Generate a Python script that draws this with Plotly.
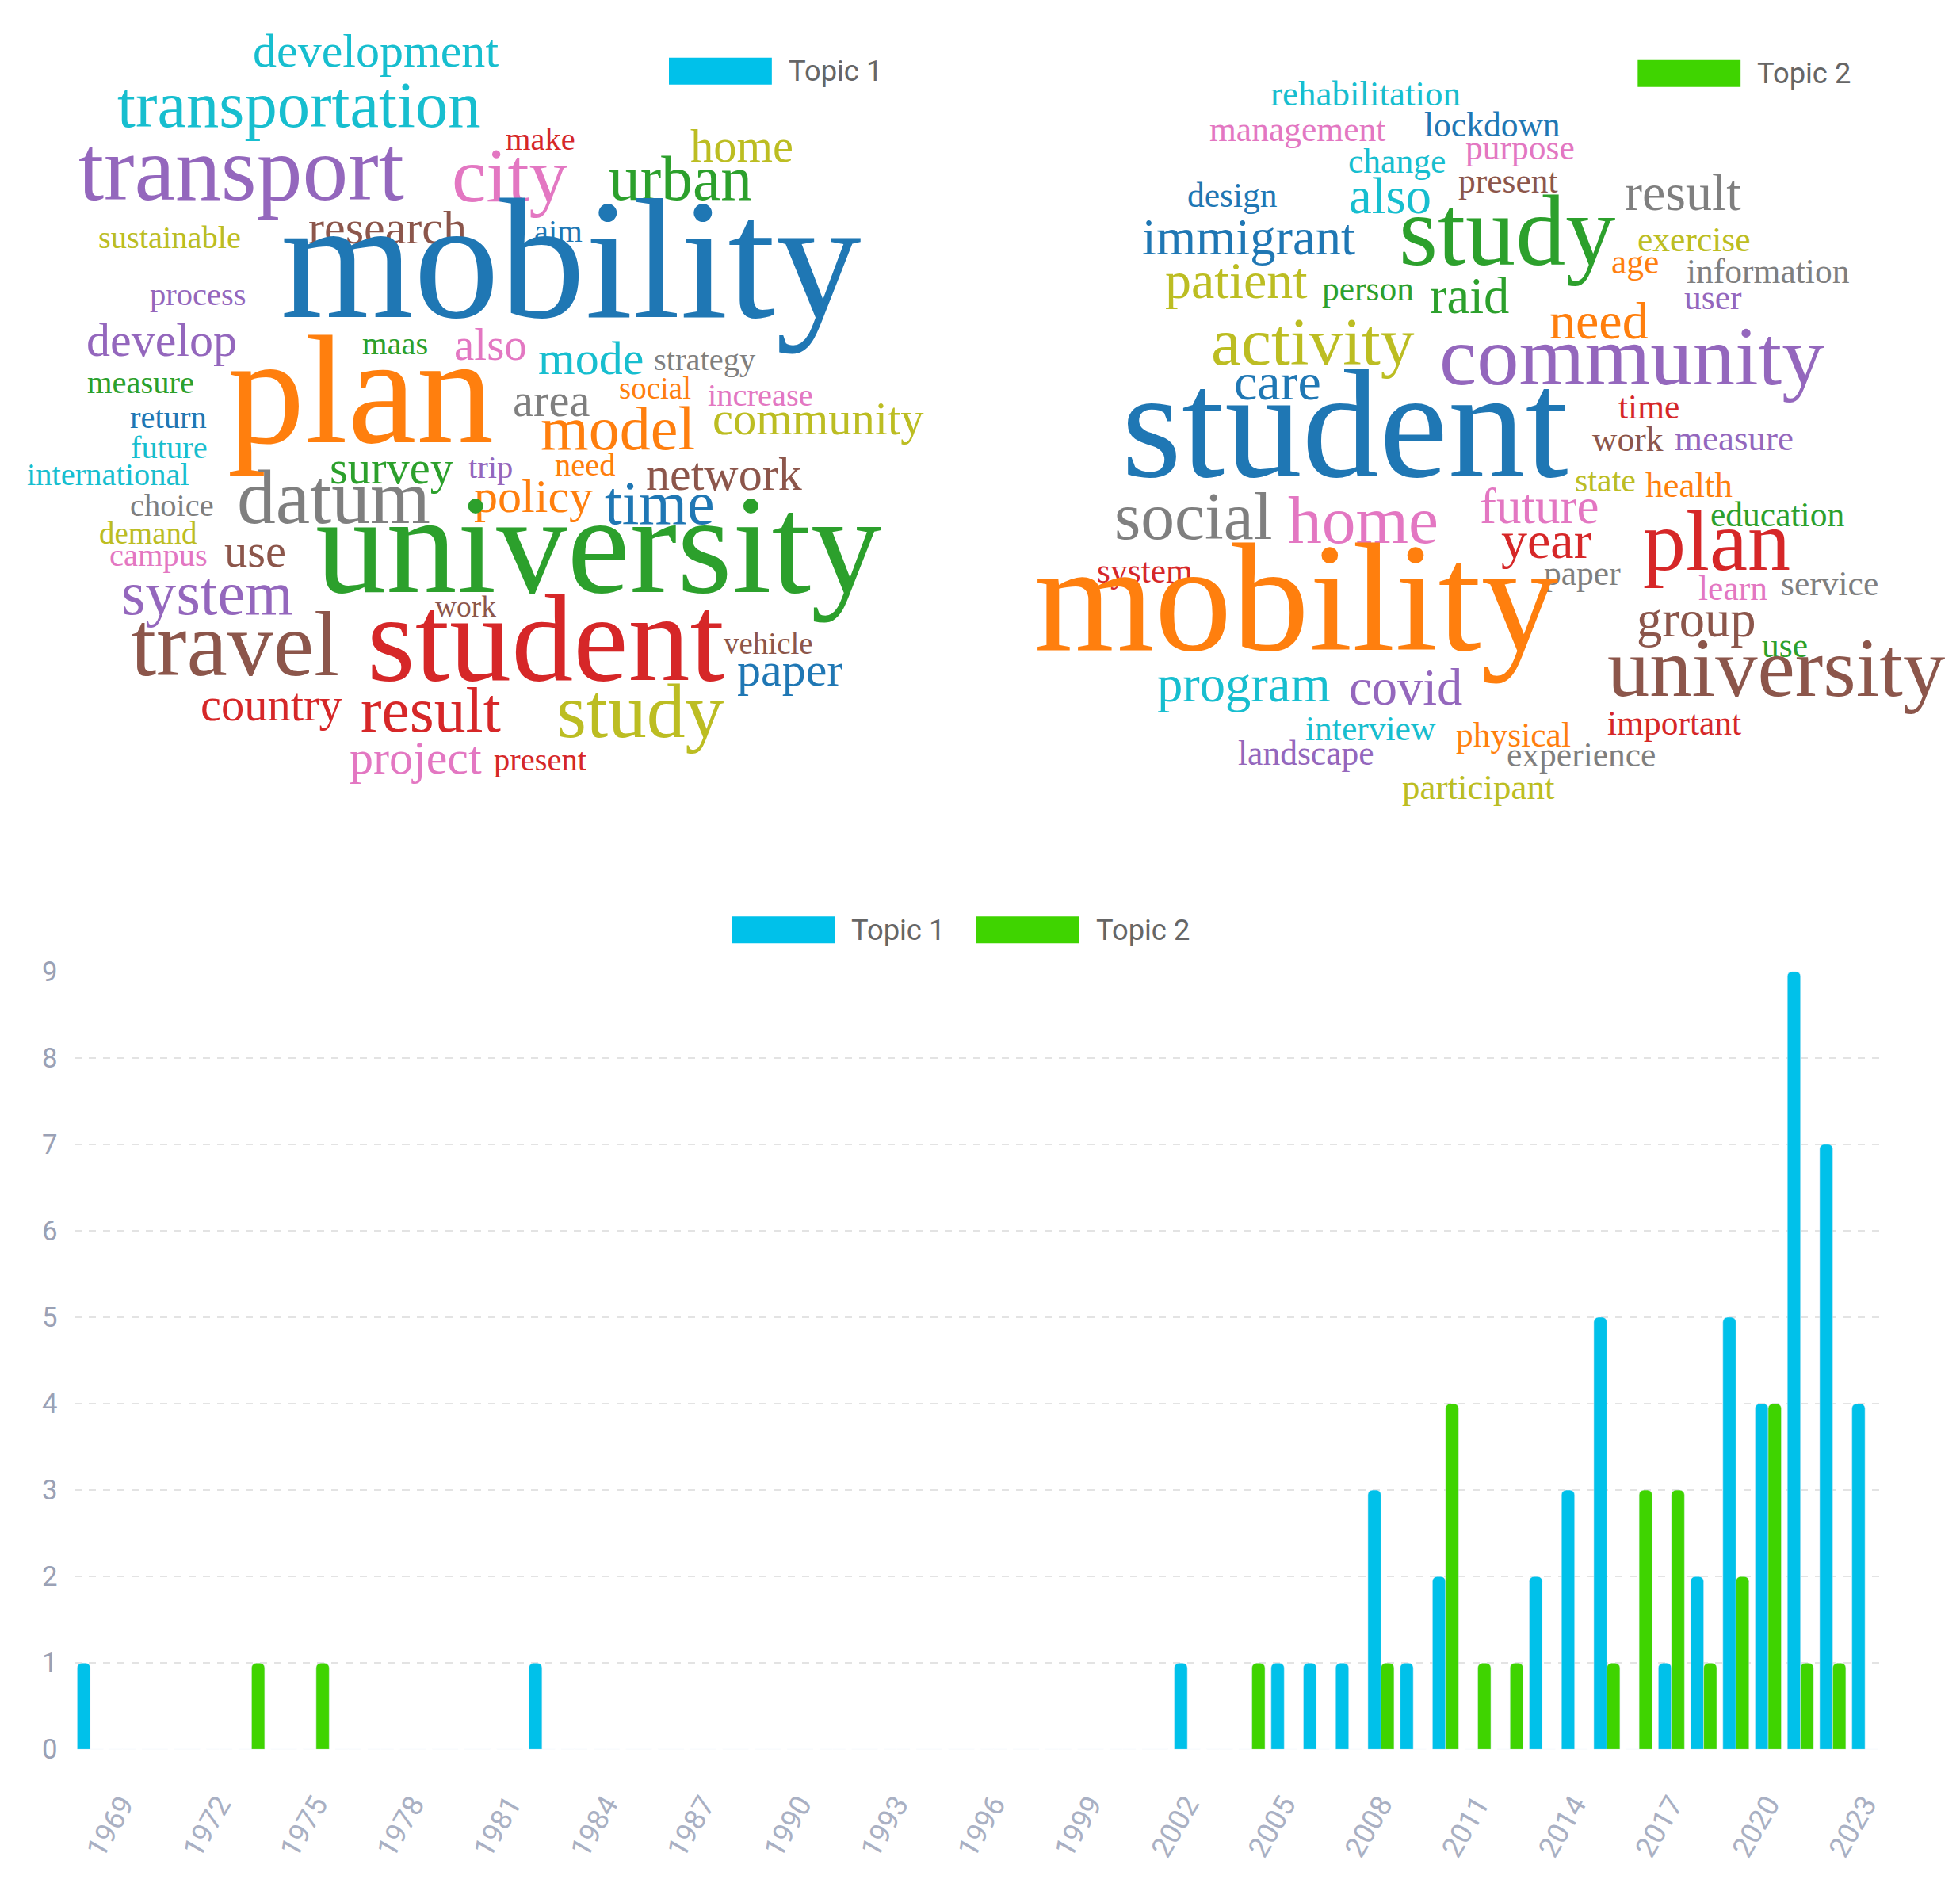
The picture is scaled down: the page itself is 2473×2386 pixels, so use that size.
import plotly.graph_objects as go

# ---------------- data ----------------
years = list(range(1968, 2024))
topic1_counts = {1968: 1, 1982: 1, 2002: 1, 2005: 1, 2006: 1, 2007: 1, 2008: 3, 2009: 1, 2010: 2,
                 2013: 2, 2014: 3, 2015: 5, 2017: 1, 2018: 2, 2019: 5, 2020: 4, 2021: 9, 2022: 7, 2023: 4}
topic2_counts = {1973: 1, 1975: 1, 2004: 1, 2008: 1, 2010: 4, 2011: 1, 2012: 1, 2015: 1, 2016: 3,
                 2017: 3, 2018: 1, 2019: 2, 2020: 4, 2021: 1, 2022: 1}
topic1 = [topic1_counts.get(y, 0) for y in years]
topic2 = [topic2_counts.get(y, 0) for y in years]
tick_years = list(range(1969, 2024, 3))
tick_labels = [str(y) for y in tick_years]
series_names = ["Topic 1", "Topic 2"]

# word clouds: word, display-size weight
wc1_words = ["development", "transportation", "transport", "city", "make", "home", "urban", "sustainable",
             "research", "aim", "mobility", "process", "develop", "maas", "also", "mode", "strategy", "measure",
             "plan", "social", "increase", "area", "model", "community", "return", "future", "international",
             "survey", "trip", "need", "network", "datum", "policy", "time", "choice", "demand", "campus", "use",
             "university", "system", "work", "travel", "student", "vehicle", "paper", "country", "result",
             "study", "project", "present"]
wc1_sizes = [40, 55, 77, 65, 27, 39, 53, 27, 40, 27, 144, 27, 40, 27, 38, 40, 27, 27, 130, 26, 27, 39, 52, 39,
             27, 27, 27, 39, 27, 27, 40, 65, 40, 52, 27, 26, 27, 39, 119, 52, 25, 77, 104, 26, 40, 39, 53, 65,
             40, 27]
wc2_words = ["rehabilitation", "management", "lockdown", "purpose", "change", "present", "design", "also",
             "result", "study", "immigrant", "exercise", "age", "information", "user", "patient", "person",
             "raid", "need", "activity", "community", "care", "student", "time", "work", "measure", "state",
             "health", "social", "home", "future", "education", "year", "plan", "system", "paper", "learn",
             "service", "mobility", "group", "use", "university", "program", "covid", "interview", "physical",
             "important", "landscape", "experience", "participant"]
wc2_sizes = [30, 29, 29, 29, 29, 29, 29, 43, 44, 84, 43, 29, 29, 29, 29, 44, 29, 43, 44, 57, 71, 44, 130, 29,
             29, 30, 28, 30, 57, 57, 42, 29, 44, 72, 29, 29, 29, 29, 130, 43, 29, 71, 43, 43, 29, 29, 29, 29,
             29, 30]

# ---------------- layout helpers (positions / styles) ----------------
W, H = 1560.0, 1520.0   # reference display grid
S = 1.58 * 0.95         # display px -> output px (word fonts)
DY = -12                # vertical correction for word placement

def px(x): return x / W
def py(y): return 1 - y / H

C = dict(blue="#1f77b4", orange="#ff7f0e", green="#2ca02c", red="#d62728", purple="#9467bd",
         brown="#8c564b", pink="#e377c2", gray="#7f7f7f", olive="#bcbd22", cyan="#17becf")

wc1_pos = [(294, 32, "cyan"), (233, 78, "cyan"), (187, 133, "purple"), (401, 137, "pink"), (426, 103, "red"),
           (586, 110, "olive"), (537, 138, "green"), (130, 183, "olive"), (304, 176, "brown"), (440, 178, "blue"),
           (450, 215, "blue"), (153, 230, "purple"), (124, 268, "purple"), (310, 270, "green"), (386, 272, "pink"),
           (466, 283, "cyan"), (557, 283, "gray"), (107, 302, "green"), (282, 320, "orange"), (517, 306, "orange"),
           (601, 312, "pink"), (434, 318, "gray"), (487, 342, "orange"), (647, 333, "olive"), (129, 330, "blue"),
           (130, 355, "cyan"), (81, 377, "cyan"), (307, 373, "green"), (386, 371, "purple"), (461, 369, "orange"),
           (572, 378, "brown"), (261, 400, "gray"), (420, 396, "orange"), (521, 403, "blue"), (132, 402, "gray"),
           (113, 425, "olive"), (121, 443, "pink"), (198, 441, "brown"), (472, 445, "green"), (160, 477, "purple"),
           (366, 485, "brown"), (182, 522, "brown"), (430, 520, "red"), (607, 515, "brown"), (624, 538, "blue"),
           (211, 567, "red"), (338, 573, "red"), (505, 575, "olive"), (326, 610, "pink"), (426, 610, "red")]
wc2_pos = [(1083, 66, "cyan"), (1029, 95, "pink"), (1184, 91, "blue"), (1206, 110, "pink"), (1108, 121, "cyan"),
           (1197, 137, "brown"), (977, 149, "blue"), (1103, 151, "cyan"), (1336, 148, "gray"), (1196, 185, "green"),
           (990, 185, "blue"), (1345, 185, "olive"), (1298, 203, "orange"), (1404, 211, "gray"), (1360, 232, "purple"),
           (980, 220, "olive"), (1085, 225, "green"), (1166, 233, "green"), (1269, 253, "orange"), (1041, 272, "olive"),
           (1295, 285, "purple"), (1013, 303, "blue"), (1067, 348, "blue"), (1309, 322, "red"), (1292, 348, "brown"),
           (1377, 348, "purple"), (1274, 382, "olive"), (1341, 386, "orange"), (946, 415, "gray"), (1081, 418, "pink"),
           (1222, 405, "pink"), (1411, 410, "green"), (1227, 433, "red"), (1363, 437, "red"), (907, 456, "red"),
           (1256, 458, "gray"), (1376, 470, "pink"), (1453, 466, "gray"), (1028, 490, "orange"), (1347, 497, "brown"),
           (1417, 517, "green"), (1410, 540, "brown"), (986, 550, "cyan"), (1115, 553, "purple"), (1087, 585, "cyan"),
           (1201, 590, "orange"), (1329, 580, "red"), (1036, 605, "purple"), (1255, 606, "gray"), (1173, 633, "olive")]

annotations = []
for words, sizes, pos in ((wc1_words, wc1_sizes, wc1_pos), (wc2_words, wc2_sizes, wc2_pos)):
    for w, s, (x, y, c) in zip(words, sizes, pos):
        annotations.append(dict(text=w, x=px(x), y=py(y + DY * s / 100 - 4), xref="paper", yref="paper",
                                showarrow=False, xanchor="center", yanchor="middle",
                                font=dict(family="Liberation Serif", size=s * S, color=C[c])))

BLUE_BAR, GREEN_BAR = "#00c1ea", "#3fd400"
shapes = []

def legend_item(x0, y, color, label):
    shapes.append(dict(type="rect", xref="paper", yref="paper", x0=px(x0), x1=px(x0 + 82),
                       y0=py(y + 11), y1=py(y - 11), fillcolor=color, line=dict(width=0)))
    annotations.append(dict(text=label, x=px(x0 + 94), y=py(y), xref="paper", yref="paper", showarrow=False,
                            xanchor="left", yanchor="middle",
                            font=dict(family="Roboto", size=23 * 1.58, color="#666666")))

legend_item(528, 40, BLUE_BAR, series_names[0])
legend_item(1300, 42, GREEN_BAR, series_names[1])
legend_item(578, 742, BLUE_BAR, series_names[0])
legend_item(773, 742, GREEN_BAR, series_names[1])

fig = go.Figure()
fig.add_bar(x=years, y=topic1, name=series_names[0], marker_color=BLUE_BAR)
fig.add_bar(x=years, y=topic2, name=series_names[1], marker_color=GREEN_BAR)

fig.update_layout(
    width=2473, height=2386, paper_bgcolor="white", plot_bgcolor="white",
    margin=dict(l=0, r=0, t=0, b=0), showlegend=False,
    barmode="group", bargap=0.19, bargroupgap=0, barcornerradius=6,
    annotations=annotations, shapes=shapes,
    xaxis=dict(domain=[px(54), px(1494)], range=[1967.5, 2023.5], tickmode="array",
               tickvals=tick_years, ticktext=tick_labels, tickangle=-60, showgrid=False,
               showline=False, zeroline=False, ticks="", ticklabelstandoff=40,
               tickfont=dict(family="Roboto", size=23 * 1.58, color="#a9b0c3")),
    yaxis=dict(domain=[py(1412), py(776)], range=[0, 9], dtick=1, showgrid=True, griddash="dash",
               gridcolor="#e3e3e3", gridwidth=2, zeroline=False, showline=False, ticks="",
               ticklabelstandoff=20,
               tickfont=dict(family="Roboto", size=22 * 1.58, color="#9aa1b5")),
)
fig.write_html("out.html")
